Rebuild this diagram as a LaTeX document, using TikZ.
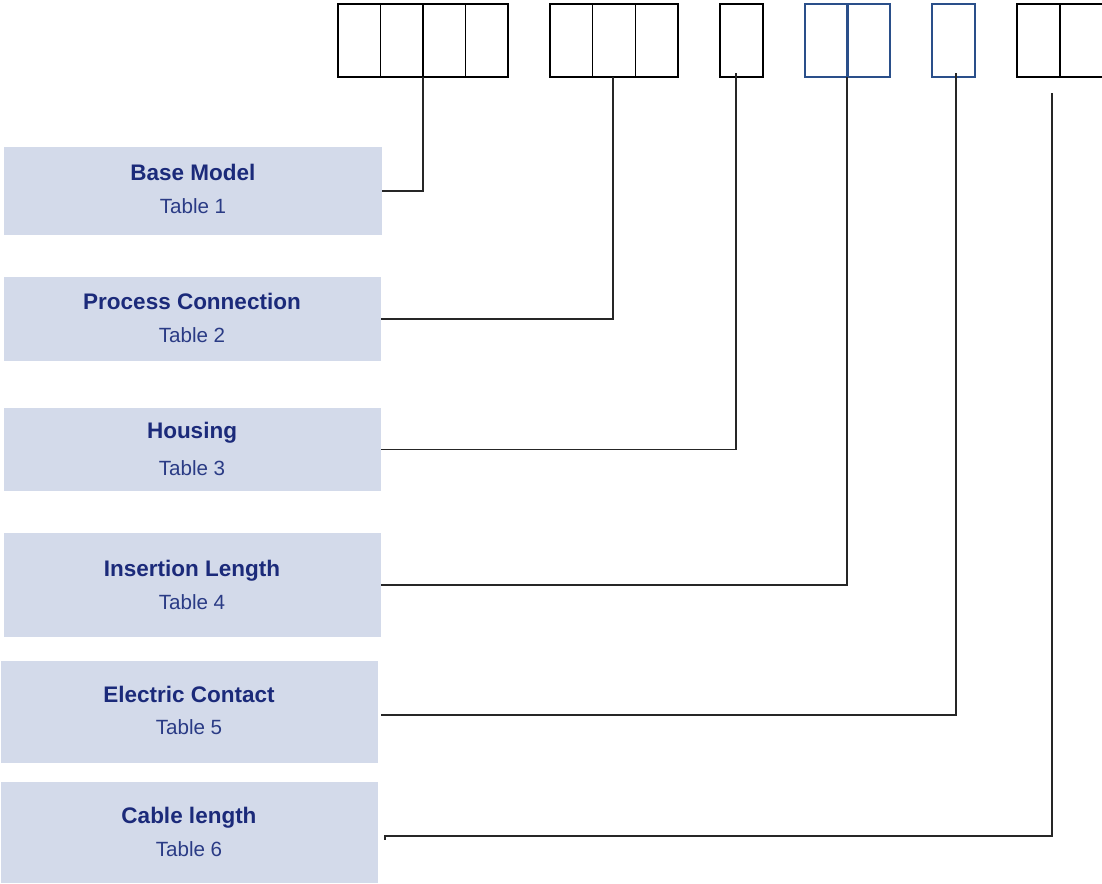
\documentclass[tikz,border=0pt]{standalone}
\usepackage{fontspec}
\setmainfont{Liberation Sans}
\definecolor{labfill}{HTML}{D3DAEA}
\definecolor{ttlcol}{HTML}{1B2A7A}
\definecolor{tblcol}{HTML}{2A3B85}
\definecolor{bluebox}{HTML}{2A4F8A}
\begin{document}
\begin{tikzpicture}[x=1pt,y=-1pt,
  cell/.style={draw=black, line width=1.5pt, minimum height=73pt, inner sep=0pt, outer sep=0pt, anchor=north west},
  bcell/.style={cell, draw=bluebox, line width=2.8pt},
  lab/.style={fill=labfill, draw=none, inner sep=0pt, outer sep=0pt, anchor=north west},
  ttl/.style={text=ttlcol, font=\fontsize{22.5}{25}\selectfont\bfseries, anchor=base, inner sep=0pt},
  tbl/.style={text=tblcol, font=\fontsize{20.6}{23}\selectfont, anchor=base, inner sep=0pt},
  conn/.style={draw=black!85, line width=1.2pt}]
\useasboundingbox (0,0) rectangle (1102,883);
% top code cells
\node[cell, minimum width=42.5pt] (g1a) at (338,4) {};
\node[cell, minimum width=42.5pt] (g1b) at (380.5,4) {};
\node[cell, minimum width=42.5pt] (g1c) at (423,4) {};
\node[cell, minimum width=42.5pt] (g1d) at (465.5,4) {};
\node[cell, minimum width=42.7pt] (g2a) at (550,4) {};
\node[cell, minimum width=42.7pt] (g2b) at (592.7,4) {};
\node[cell, minimum width=42.7pt] (g2c) at (635.4,4) {};
\node[cell, minimum width=43pt] (g3a) at (720,4) {};
\node[bcell, minimum width=42.5pt] (g4a) at (805,4) {};
\node[bcell, minimum width=42.5pt] (g4b) at (847.5,4) {};
\node[bcell, minimum width=43pt] (g5a) at (932,4) {};
\node[cell, minimum width=43pt] (g6a) at (1017,4) {};
\node[cell, minimum width=43pt] (g6b) at (1060,4) {};
% label boxes
\node[lab, minimum width=378pt, minimum height=88pt] (b1) at (4,147) {};
\node[lab, minimum width=377pt, minimum height=84pt] (b2) at (4,277) {};
\node[lab, minimum width=377pt, minimum height=83pt] (b3) at (4,408) {};
\node[lab, minimum width=377pt, minimum height=104pt] (b4) at (4,533) {};
\node[lab, minimum width=377pt, minimum height=102pt] (b5) at (1,661) {};
\node[lab, minimum width=377pt, minimum height=101pt] (b6) at (1,782) {};
% texts
\node[ttl] (t1) at (193,180) {Base Model};
\node[tbl] (n1) at (193,213) {Table 1};
\node[ttl] (t2) at (192,309) {Process Connection};
\node[tbl] (n2) at (192,342) {Table 2};
\node[ttl] (t3) at (192,438) {Housing};
\node[tbl] (n3) at (192,475) {Table 3};
\node[ttl] (t4) at (192,576) {Insertion Length};
\node[tbl] (n4) at (192,609) {Table 4};
\node[ttl] (t5) at (189,702) {Electric Contact};
\node[tbl] (n5) at (189,734) {Table 5};
\node[ttl] (t6) at (189,823) {Cable length};
\node[tbl] (n6) at (189,856) {Table 6};
% connectors
\coordinate (s1) at (423,77);
\coordinate (s2) at (613,77);
\coordinate (s3) at (736,73);
\coordinate (s4) at (847,77);
\coordinate (s5) at (956,73);
\coordinate (s6) at (1052,93);
\coordinate (e6) at (385,836);
\draw[conn] (s1) |- (b1.east);
\draw[conn] (s2) |- (b2.east);
\draw[conn] (s3) |- (b3.east);
\draw[conn] (s4) |- (b4.east);
\draw[conn] (s5) |- ([xshift=3pt,yshift=-3pt]b5.east);
\draw[conn] (s6) |- (e6) -- ++(0,4);
\end{tikzpicture}
\end{document}
